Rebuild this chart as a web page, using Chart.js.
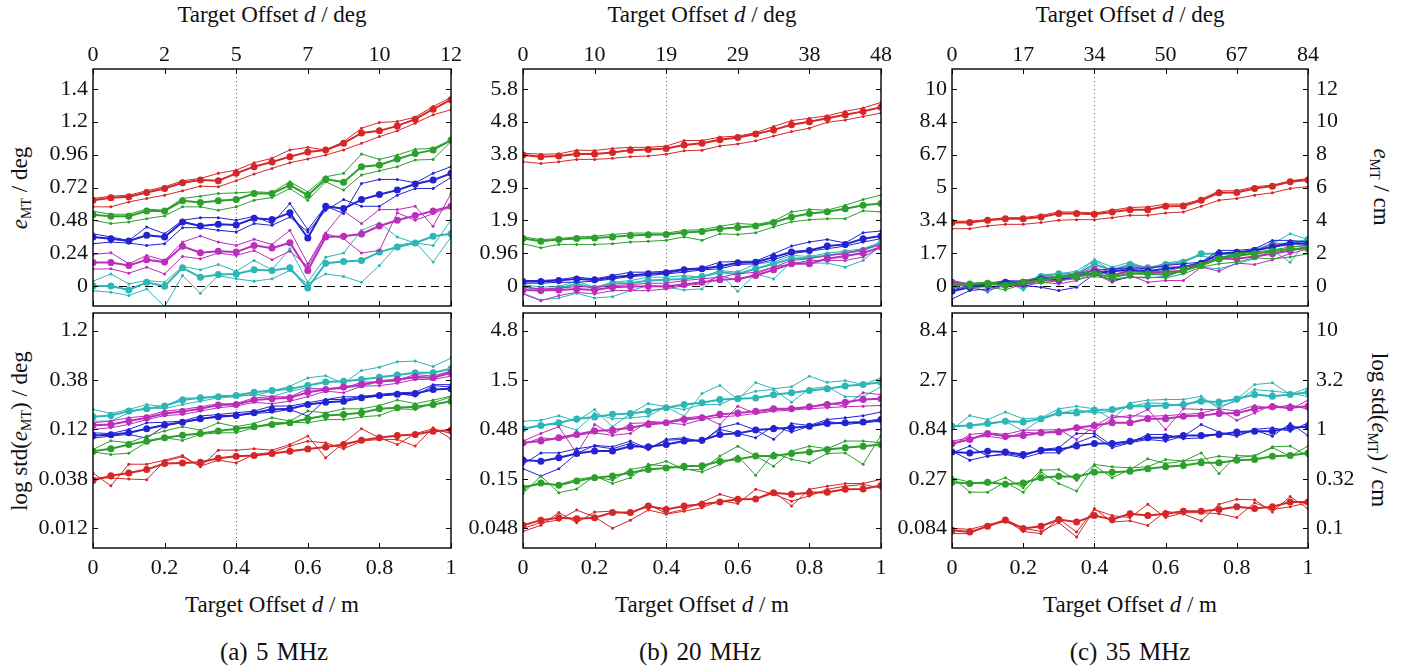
<!DOCTYPE html>
<html>
<head>
<meta charset="utf-8">
<script src="https://cdn.jsdelivr.net/npm/chart.js@4.4.0/dist/chart.umd.min.js"></script>
<style>
  body { margin: 0; background: #fff; width: 1416px; height: 667px; overflow: hidden; position: relative;
         font-family: 'Liberation Serif', serif; color: #111; }
  canvas { position: absolute; }
  .t { position: absolute; font-size: 23px; white-space: nowrap; transform: translate(-50%, -50%); }
  .cap { font-size: 25px; word-spacing: 2px; }
  .rl { transform: translate(-50%, -50%) rotate(-90deg); }
  .rr { transform: translate(-50%, -50%) rotate(90deg); }
  .sub { font-size: 14px; position: relative; top: 4px; }
</style>
</head>
<body>

<div class="t" style="left:272px;top:15px">Target Offset <i>d</i> / deg</div>
<div class="t" style="left:702px;top:15px">Target Offset <i>d</i> / deg</div>
<div class="t" style="left:1130px;top:15px">Target Offset <i>d</i> / deg</div>

<div class="t" style="left:272px;top:605px">Target Offset <i>d</i> / m</div>
<div class="t" style="left:702px;top:605px">Target Offset <i>d</i> / m</div>
<div class="t" style="left:1130px;top:605px">Target Offset <i>d</i> / m</div>

<div class="t cap" style="left:274px;top:652px">(a) 5 MHz</div>
<div class="t cap" style="left:700px;top:652px">(b) 20 MHz</div>
<div class="t cap" style="left:1130px;top:652px">(c) 35 MHz</div>

<div class="t rl" style="left:20px;top:188px"><i>e</i><span class="sub">MT</span> / deg</div>
<div class="t rl" style="left:20px;top:431px">log std(<i>e</i><span class="sub">MT</span>) / deg</div>
<div class="t rr" style="left:1381px;top:187px"><i>e</i><span class="sub">MT</span> / cm</div>
<div class="t rr" style="left:1379px;top:430px">log std(<i>e</i><span class="sub">MT</span>) / cm</div>

<canvas id="e5"></canvas>
<canvas id="s5"></canvas>
<canvas id="e20"></canvas>
<canvas id="s20"></canvas>
<canvas id="e35"></canvas>
<canvas id="s35"></canvas>

<script>
// target offset in m, 21 steps
var xs = [0, 0.05, 0.1, 0.15, 0.2, 0.25, 0.3, 0.35, 0.4, 0.45, 0.5, 0.55, 0.6, 0.65, 0.7, 0.75, 0.8, 0.85, 0.9, 0.95, 1];

var xTicks = [0, 0.2, 0.4, 0.6, 0.8, 1];
var xLabels = ['0', '0.2', '0.4', '0.6', '0.8', '1'];
var deg5Labels = ['0', '2', '5', '7', '10', '12'];
var deg20Labels = ['0', '10', '19', '29', '38', '48'];
var deg35Labels = ['0', '17', '34', '50', '67', '84'];

var err5Ticks = [0, 0.24, 0.48, 0.72, 0.96, 1.2, 1.44];
var err5Labels = ['0', '0.24', '0.48', '0.72', '0.96', '1.2', '1.4'];
var err20Ticks = [0, 0.96, 1.92, 2.88, 3.84, 4.8, 5.76];
var err20Labels = ['0', '0.96', '1.9', '2.9', '3.8', '4.8', '5.8'];
var err35Ticks = [0, 1.68, 3.36, 5.04, 6.72, 8.4, 10.08];
var err35Labels = ['0', '1.7', '3.4', '5', '6.7', '8.4', '10'];
var errCmTicks = [0, 2, 4, 6, 8, 10, 12];
var errCmLabels = ['0', '2', '4', '6', '8', '10', '12'];

var std5Ticks = [0.012, 0.03795, 0.12, 0.3795, 1.2];
var std5Labels = ['0.012', '0.038', '0.12', '0.38', '1.2'];
var std20Ticks = [0.048, 0.1518, 0.48, 1.518, 4.8];
var std20Labels = ['0.048', '0.15', '0.48', '1.5', '4.8'];
var std35Ticks = [0.084, 0.2656, 0.84, 2.656, 8.4];
var std35Labels = ['0.084', '0.27', '0.84', '2.7', '8.4'];
var stdCmTicks = [0.1, 0.3162, 1, 3.162, 10];
var stdCmLabels = ['0.1', '0.32', '1', '3.2', '10'];

// (a) 5 MHz, mean error / deg
var e5_red = [0.627,0.645,0.652,0.684,0.713,0.754,0.774,0.769,0.823,0.872,0.906,0.945,0.979,0.994,1.042,1.118,1.133,1.169,1.218,1.291,1.360];
var e5_red_1 = [0.579,0.579,0.615,0.640,0.664,0.696,0.730,0.725,0.769,0.818,0.859,0.901,0.928,0.957,0.994,1.042,1.091,1.133,1.189,1.250,1.287];
var e5_red_2 = [0.640,0.657,0.664,0.696,0.725,0.769,0.786,0.823,0.847,0.901,0.933,0.994,1.013,0.994,1.054,1.152,1.194,1.201,1.233,1.311,1.377];
var e5_green = [0.522,0.510,0.510,0.549,0.549,0.623,0.610,0.623,0.632,0.676,0.676,0.737,0.664,0.781,0.759,0.872,0.884,0.928,0.967,0.994,1.064];
var e5_green_1 = [0.481,0.457,0.469,0.493,0.513,0.579,0.579,0.554,0.579,0.627,0.647,0.713,0.627,0.762,0.701,0.811,0.842,0.872,0.920,0.925,1.055];
var e5_green_2 = [0.547,0.525,0.525,0.562,0.554,0.640,0.657,0.676,0.681,0.688,0.684,0.762,0.688,0.798,0.823,0.964,0.925,0.957,0.999,1.006,1.067];
var e5_blue = [0.359,0.347,0.330,0.371,0.359,0.469,0.439,0.452,0.447,0.496,0.486,0.535,0.352,0.584,0.566,0.632,0.669,0.701,0.745,0.774,0.823];
var e5_blue_1 = [0.310,0.322,0.315,0.298,0.310,0.427,0.427,0.408,0.396,0.457,0.444,0.505,0.396,0.554,0.632,0.583,0.583,0.664,0.713,0.713,0.793];
var e5_blue_2 = [0.383,0.359,0.334,0.432,0.383,0.481,0.500,0.500,0.481,0.510,0.457,0.603,0.413,0.584,0.530,0.749,0.779,0.779,0.754,0.823,0.872];
var e5_magenta = [0.173,0.173,0.151,0.193,0.176,0.291,0.244,0.256,0.249,0.298,0.278,0.317,0.115,0.359,0.364,0.381,0.439,0.481,0.515,0.549,0.583];
var e5_magenta_1 = [0.125,0.127,0.095,0.139,0.090,0.217,0.200,0.242,0.225,0.261,0.193,0.256,0.144,0.383,0.347,0.242,0.261,0.535,0.481,0.530,0.578];
var e5_magenta_2 = [0.232,0.244,0.164,0.225,0.188,0.322,0.366,0.322,0.298,0.342,0.305,0.408,0.164,0.388,0.549,0.457,0.559,0.559,0.583,0.437,0.676];
var e5_cyan = [0.002,0.002,-0.027,0.029,0.000,0.134,0.066,0.085,0.090,0.120,0.115,0.134,-0.012,0.168,0.181,0.188,0.249,0.286,0.315,0.364,0.383];
var e5_cyan_1 = [-0.032,-0.044,-0.068,-0.020,-0.149,0.078,-0.051,0.078,0.054,0.037,0.054,0.115,0.017,0.090,0.071,0.029,0.151,0.298,0.322,0.176,0.359];
var e5_cyan_2 = [0.037,0.090,0.017,0.042,0.029,0.144,0.120,0.159,0.110,0.188,0.120,0.273,0.029,0.212,0.242,0.408,0.461,0.359,0.315,0.298,0.481];

// (a) 5 MHz, std / deg
var s5_red = [0.0366,0.0409,0.0435,0.0471,0.0542,0.055,0.056,0.0612,0.0644,0.0654,0.0684,0.0723,0.0761,0.0797,0.0846,0.0934,0.0988,0.104,0.107,0.115,0.118];
var s5_red_1 = [0.0435,0.0323,0.0534,0.0534,0.0587,0.0654,0.0502,0.0741,0.0741,0.0765,0.0741,0.0846,0.103,0.0619,0.088,0.122,0.0988,0.0846,0.109,0.122,0.109];
var s5_red_2 = [0.0387,0.0387,0.0378,0.0372,0.0572,0.0634,0.0509,0.0587,0.055,0.067,0.0706,0.0814,0.0914,0.088,0.0765,0.0914,0.0952,0.0952,0.0814,0.125,0.0967];
var s5_green = [0.0723,0.0765,0.0846,0.0914,0.099,0.105,0.109,0.116,0.122,0.128,0.135,0.140,0.154,0.166,0.170,0.177,0.194,0.199,0.204,0.215,0.232];
var s5_green_1 = [0.071,0.067,0.069,0.0895,0.099,0.093,0.107,0.111,0.111,0.125,0.140,0.142,0.140,0.151,0.151,0.161,0.166,0.194,0.191,0.223,0.257];
var s5_green_2 = [0.0753,0.092,0.088,0.103,0.116,0.128,0.118,0.140,0.128,0.138,0.158,0.146,0.184,0.177,0.194,0.194,0.210,0.238,0.219,0.238,0.261];
var s5_blue = [0.104,0.106,0.111,0.122,0.133,0.142,0.154,0.161,0.166,0.177,0.191,0.194,0.215,0.226,0.232,0.251,0.265,0.272,0.278,0.305,0.309];
var s5_blue_1 = [0.098,0.103,0.107,0.098,0.130,0.142,0.151,0.166,0.166,0.174,0.179,0.191,0.164,0.241,0.241,0.261,0.261,0.278,0.261,0.333,0.323];
var s5_blue_2 = [0.111,0.109,0.120,0.140,0.142,0.146,0.164,0.170,0.177,0.184,0.207,0.207,0.223,0.241,0.257,0.257,0.272,0.282,0.286,0.341,0.341];
var s5_magenta = [0.132,0.135,0.146,0.158,0.174,0.182,0.194,0.212,0.215,0.238,0.246,0.251,0.286,0.305,0.323,0.341,0.370,0.385,0.406,0.400,0.449];
var s5_magenta_1 = [0.120,0.125,0.135,0.151,0.166,0.170,0.184,0.199,0.207,0.226,0.219,0.232,0.257,0.293,0.282,0.329,0.333,0.352,0.385,0.385,0.416];
var s5_magenta_2 = [0.140,0.146,0.158,0.164,0.184,0.191,0.204,0.218,0.219,0.251,0.257,0.257,0.309,0.309,0.309,0.362,0.362,0.379,0.432,0.416,0.469];
var s5_cyan = [0.161,0.166,0.184,0.194,0.207,0.238,0.251,0.257,0.265,0.286,0.298,0.309,0.334,0.362,0.370,0.385,0.406,0.426,0.449,0.449,0.493];
var s5_cyan_1 = [0.192,0.174,0.191,0.215,0.204,0.251,0.246,0.265,0.265,0.265,0.293,0.329,0.399,0.420,0.352,0.473,0.512,0.581,0.590,0.520,0.633];
var s5_cyan_2 = [0.146,0.146,0.177,0.199,0.195,0.215,0.232,0.251,0.257,0.272,0.257,0.293,0.317,0.305,0.317,0.329,0.362,0.370,0.416,0.400,0.469];

// (b) 20 MHz, mean error / deg
var e20_red = [3.83,3.78,3.80,3.86,3.86,3.90,3.97,3.99,4.02,4.12,4.17,4.27,4.34,4.44,4.56,4.71,4.80,4.90,5.00,5.10,5.22];
var e20_red_1 = [3.63,3.58,3.63,3.70,3.70,3.73,3.78,3.80,3.85,3.95,3.97,4.09,4.15,4.24,4.38,4.51,4.61,4.78,4.85,4.95,5.05];
var e20_red_2 = [3.88,3.85,3.86,3.97,3.96,4.02,4.05,4.05,4.09,4.25,4.25,4.35,4.38,4.48,4.66,4.83,4.90,4.97,5.10,5.20,5.36];
var e20_green = [1.39,1.31,1.36,1.39,1.41,1.44,1.48,1.50,1.51,1.57,1.60,1.68,1.71,1.76,1.86,2.02,2.12,2.17,2.26,2.36,2.41];
var e20_green_1 = [1.24,1.12,1.22,1.22,1.22,1.24,1.29,1.31,1.34,1.44,1.34,1.53,1.51,1.56,1.73,1.88,1.94,1.97,1.97,2.20,2.17];
var e20_green_2 = [1.44,1.36,1.39,1.44,1.46,1.51,1.55,1.55,1.55,1.63,1.65,1.75,1.83,1.80,1.90,2.17,2.24,2.22,2.36,2.53,2.66];
var e20_blue = [0.137,0.137,0.166,0.215,0.186,0.264,0.313,0.361,0.391,0.479,0.508,0.586,0.684,0.703,0.850,0.996,1.045,1.172,1.221,1.387,1.465];
var e20_blue_1 = [0.166,0.166,0.195,0.264,0.215,0.313,0.410,0.410,0.440,0.508,0.537,0.703,0.723,0.732,0.947,1.172,1.289,1.367,1.260,1.563,1.611];
var e20_blue_2 = [0.088,0.088,0.117,0.117,0.146,0.215,0.283,0.313,0.361,0.410,0.479,0.508,0.635,0.654,0.772,0.947,1.025,1.094,1.172,1.289,1.387];
var e20_magenta = [-0.107,-0.127,-0.107,-0.078,-0.107,-0.029,-0.010,0,0,0.049,0.117,0.186,0.215,0.313,0.479,0.654,0.654,0.801,0.879,0.967,1.143];
var e20_magenta_1 = [-0.225,-0.420,-0.273,-0.176,-0.225,-0.127,-0.127,-0.127,-0.078,0.020,0.068,0.313,0.166,0.361,0.557,0.654,0.752,0.752,0.752,0.850,1.143];
var e20_magenta_2 = [-0.029,-0.078,-0.059,-0.010,-0.029,0.020,0.049,0.088,0.088,0.166,0.215,0.264,0.361,0.410,0.557,0.752,0.801,0.898,0.947,1.094,1.191];
var e20_cyan = [-0.010,-0.107,-0.059,0.068,-0.059,0.088,0.088,0.166,0.186,0.215,0.283,0.410,0.361,0.508,0.654,0.801,0.830,0.898,0.977,1.045,1.260];
var e20_cyan_1 = [-0.205,-0.400,-0.342,-0.205,-0.342,-0.303,-0.127,0.020,-0.029,-0.107,-0.078,0.361,-0.146,0.361,0.215,0.703,0.674,0.674,0.557,0.752,1.191];
var e20_cyan_2 = [0.049,-0.029,-0.010,0.146,-0.029,0.117,0.166,0.264,0.264,0.313,0.264,0.459,0.410,0.654,0.703,0.898,0.869,0.967,1.025,1.094,1.289];

// (b) 20 MHz, std / deg
var s20_red = [0.0514,0.058,0.0614,0.060,0.0614,0.0691,0.0691,0.0806,0.0744,0.0806,0.084,0.0883,0.0941,0.095,0.110,0.106,0.110,0.111,0.119,0.120,0.130];
var s20_red_1 = [0.0446,0.0514,0.0691,0.0547,0.070,0.0715,0.0667,0.084,0.0677,0.0744,0.0883,0.106,0.0941,0.095,0.114,0.0806,0.119,0.128,0.136,0.136,0.150];
var s20_red_2 = [0.048,0.0547,0.058,0.0734,0.0624,0.048,0.058,0.0734,0.0667,0.0715,0.0773,0.0912,0.0854,0.119,0.106,0.0902,0.102,0.119,0.128,0.133,0.123];
var s20_green = [0.123,0.138,0.131,0.144,0.156,0.162,0.175,0.189,0.196,0.204,0.206,0.229,0.239,0.258,0.258,0.274,0.283,0.301,0.313,0.325,0.338];
var s20_green_1 = [0.108,0.162,0.110,0.120,0.162,0.136,0.156,0.213,0.204,0.192,0.178,0.213,0.258,0.165,0.278,0.239,0.221,0.274,0.278,0.213,0.418];
var s20_green_2 = [0.128,0.133,0.133,0.150,0.159,0.147,0.189,0.204,0.229,0.189,0.189,0.258,0.325,0.258,0.204,0.290,0.325,0.306,0.366,0.366,0.352];
var s20_blue = [0.235,0.229,0.248,0.274,0.290,0.290,0.325,0.321,0.338,0.366,0.373,0.427,0.438,0.473,0.488,0.499,0.518,0.552,0.561,0.571,0.605];
var s20_blue_1 = [0.192,0.162,0.192,0.274,0.331,0.321,0.366,0.306,0.381,0.396,0.357,0.499,0.552,0.473,0.381,0.552,0.527,0.605,0.629,0.662,0.720];
var s20_blue_2 = [0.213,0.278,0.278,0.306,0.325,0.306,0.347,0.301,0.373,0.381,0.366,0.480,0.438,0.396,0.518,0.451,0.518,0.581,0.538,0.561,0.581];
var s20_magenta = [0.352,0.366,0.396,0.427,0.462,0.473,0.499,0.538,0.561,0.605,0.629,0.682,0.706,0.734,0.778,0.778,0.816,0.859,0.907,0.965,0.979];
var s20_magenta_1 = [0.366,0.438,0.511,0.274,0.538,0.427,0.552,0.561,0.571,0.629,0.653,0.538,0.826,0.696,0.763,0.778,0.797,0.893,0.826,1.13,1.08];
var s20_magenta_2 = [0.338,0.396,0.381,0.418,0.444,0.418,0.438,0.581,0.561,0.538,0.605,0.643,0.662,0.696,0.734,0.754,0.778,0.797,0.816,0.826,0.840];
var s20_cyan = [0.488,0.527,0.561,0.614,0.643,0.682,0.696,0.734,0.797,0.859,0.893,0.965,0.979,1.00,1.08,1.13,1.19,1.24,1.32,1.37,1.44];
var s20_cyan_1 = [0.581,0.595,0.662,0.581,0.763,0.511,0.696,0.878,0.816,0.653,1.11,1.34,0.965,1.43,1.24,1.30,1.66,1.44,1.50,1.37,1.60];
var s20_cyan_2 = [0.480,0.538,0.538,0.473,0.696,0.614,0.629,0.653,0.816,0.763,0.859,0.859,1.03,1.17,1.22,0.907,1.24,1.30,1.03,1.03,1.30];

// (c) 35 MHz, mean error / deg
var e35_red = [3.25,3.25,3.37,3.45,3.45,3.54,3.71,3.71,3.67,3.79,3.91,3.91,4.08,4.10,4.39,4.77,4.79,4.99,5.11,5.33,5.42];
var e35_red_1 = [2.94,2.94,3.08,3.16,3.16,3.25,3.37,3.40,3.40,3.50,3.62,3.62,3.74,3.79,4.08,4.39,4.48,4.65,4.77,4.99,5.08];
var e35_red_2 = [3.32,3.32,3.40,3.50,3.50,3.62,3.79,3.79,3.74,3.88,4.02,4.05,4.19,4.19,4.43,4.87,4.87,5.08,5.16,5.38,5.50];
var e35_green = [0.034,0.085,0.154,0.034,0.205,0.290,0.461,0.496,0.632,0.461,0.632,0.632,0.598,0.803,1.06,1.40,1.57,1.66,1.79,1.91,1.91];
var e35_green_1 = [-0.051,-0.085,-0.017,-0.188,0.120,0.154,0.290,0.376,0.496,0.376,0.461,0.461,0.427,0.632,0.974,1.15,1.23,1.45,1.40,1.49,1.66];
var e35_green_2 = [0.120,0.154,0.205,0.154,0.290,0.427,0.496,0.632,0.769,0.547,0.718,0.718,0.769,0.974,1.15,1.45,1.69,1.74,1.86,2.00,2.09];
var e35_blue = [-0.256,-0.051,0.085,0.205,0.205,0.376,0.376,0.496,0.667,0.769,0.837,0.769,0.889,0.974,1.18,1.66,1.74,1.83,2.00,2.17,2.17];
var e35_blue_1 = [-0.649,-0.222,-0.137,0.085,0.034,-0.051,-0.222,-0.051,0.632,0.290,0.461,0.427,0.496,0.803,1.06,1.49,1.57,1.83,2.00,2.26,2.26];
var e35_blue_2 = [-0.188,0.034,0.120,0.290,0.256,0.461,0.427,0.632,0.803,0.889,0.940,0.889,1.06,1.15,1.23,1.83,1.83,1.91,2.34,2.34,2.26];
var e35_magenta = [0.205,0.085,0.085,0.120,0.120,0.290,0.290,0.496,0.837,0.547,0.803,0.718,0.718,0.803,1.15,1.40,1.40,1.52,1.66,1.83,2.00];
var e35_magenta_1 = [0.154,-0.085,-0.222,0.034,-0.017,0.205,0.120,0.290,0.632,0.205,0.547,0.205,0.290,0.290,0.974,0.769,1.18,1.11,1.35,1.66,1.91];
var e35_magenta_2 = [0.290,0.120,0.205,0.205,0.290,0.461,0.496,0.632,0.940,0.718,0.974,0.974,0.974,1.01,1.23,1.52,1.49,1.74,2.20,2.00,2.09];
var e35_cyan = [0,0.120,0.120,0.171,0,0.496,0.632,0.632,1.11,0.837,1.11,0.940,1.11,1.23,1.66,1.66,1.66,1.83,2.17,2.17,2.38];
var e35_cyan_1 = [0.085,0.085,-0.308,0.256,-0.188,0.461,0.256,0.632,1.32,0.769,1.06,0.769,1.23,1.06,0.974,0.889,1.15,1.40,1.83,1.23,2.38];
var e35_cyan_2 = [0.205,0.085,0.034,0.290,0.120,0.598,0.632,0.769,1.35,0.974,1.23,0.889,1.18,1.32,1.57,1.32,1.74,1.83,2.17,2.68,2.38];

// (c) 35 MHz, std / deg
var s35_red = [0.0803,0.0769,0.0882,0.102,0.0838,0.0882,0.103,0.0974,0.113,0.103,0.118,0.113,0.118,0.125,0.125,0.130,0.139,0.133,0.139,0.155,0.155];
var s35_red_1 = [0.0743,0.0743,0.0899,0.102,0.0781,0.0743,0.105,0.0769,0.133,0.0974,0.100,0.0899,0.125,0.117,0.100,0.147,0.165,0.163,0.123,0.176,0.133];
var s35_red_2 = [0.084,0.082,0.0916,0.0974,0.084,0.0781,0.0958,0.0686,0.130,0.113,0.108,0.147,0.108,0.121,0.121,0.118,0.108,0.152,0.130,0.139,0.152];
var s35_green = [0.246,0.239,0.246,0.234,0.242,0.273,0.283,0.279,0.311,0.311,0.318,0.336,0.352,0.363,0.386,0.386,0.411,0.417,0.451,0.458,0.487];
var s35_green_1 = [0.279,0.195,0.195,0.246,0.195,0.311,0.239,0.200,0.363,0.273,0.330,0.424,0.380,0.402,0.487,0.301,0.458,0.451,0.561,0.570,0.451];
var s35_green_2 = [0.273,0.246,0.234,0.273,0.216,0.326,0.330,0.258,0.372,0.352,0.344,0.352,0.417,0.402,0.417,0.451,0.434,0.458,0.549,0.451,0.570];
var s35_blue = [0.496,0.487,0.507,0.496,0.469,0.518,0.528,0.570,0.605,0.605,0.640,0.692,0.692,0.731,0.731,0.748,0.790,0.808,0.808,0.874,0.894];
var s35_blue_1 = [0.507,0.411,0.451,0.469,0.434,0.487,0.487,0.616,0.719,0.549,0.616,0.666,0.640,0.719,0.941,0.790,0.719,0.827,0.719,0.966,0.731];
var s35_blue_2 = [0.487,0.570,0.451,0.480,0.451,0.528,0.549,0.766,0.766,0.580,0.616,0.748,0.748,0.676,0.692,0.766,0.731,0.840,0.874,0.808,0.981];
var s35_magenta = [0.605,0.666,0.766,0.719,0.731,0.777,0.790,0.874,0.922,0.981,0.981,1.08,1.08,1.14,1.16,1.22,1.23,1.36,1.43,1.39,1.44];
var s35_magenta_1 = [0.570,0.748,0.777,0.748,0.827,0.827,0.840,0.666,0.907,1.16,1.10,1.34,0.840,1.36,1.34,1.34,1.04,1.23,1.50,1.34,1.66];
var s35_magenta_2 = [0.640,0.692,0.719,0.676,0.790,0.766,0.827,0.874,0.808,1.10,1.16,1.14,1.16,1.19,1.23,1.36,1.29,1.47,1.36,1.50,1.34];
var s35_cyan = [0.907,0.922,0.966,1.02,1.00,1.08,1.23,1.23,1.32,1.34,1.44,1.44,1.47,1.50,1.62,1.59,1.71,1.90,1.82,1.90,2.00];
var s35_cyan_1 = [0.840,1.16,1.06,1.26,1.08,1.10,1.36,1.44,1.36,1.06,1.56,1.66,1.69,1.69,1.82,1.36,1.71,2.39,2.49,1.90,2.22];
var s35_cyan_2 = [0.922,0.922,0.941,1.02,0.808,1.06,1.22,1.34,1.22,1.29,1.44,1.56,1.54,1.44,1.71,1.44,1.62,2.13,2.05,1.97,1.80];

var colors = ['#d62728', '#2ca02c', '#2323d2', '#bb2dbb', '#2db6b6'];

Chart.defaults.font.family = "'Liberation Serif', serif";
Chart.defaults.font.size = 22;
Chart.defaults.color = '#111';

var M = 80;   // room round each plot area for tick labels
var TICK = 5;

// box, inward ticks, 0.4 m marker and zero line
var framePlugin = {
  id: 'frame',
  beforeDatasetsDraw: function (chart, args, opts) {
    var a = chart.chartArea, c = chart.ctx;
    c.save();
    var px = Math.round(chart.scales.x.getPixelForValue(0.4)) + 0.5;
    c.strokeStyle = '#666';
    c.lineWidth = 1;
    c.setLineDash([1, 3]);
    c.beginPath(); c.moveTo(px, a.top); c.lineTo(px, a.bottom); c.stroke();
    if (opts.zero) {
      var py = Math.round(chart.scales.y.getPixelForValue(0)) + 0.5;
      c.strokeStyle = '#000';
      c.lineWidth = 1.2;
      c.setLineDash([8, 5]);
      c.beginPath(); c.moveTo(a.left, py); c.lineTo(a.right, py); c.stroke();
    }
    c.restore();
  },
  afterDatasetsDraw: function (chart) {
    var a = chart.chartArea, c = chart.ctx;
    c.save();
    c.strokeStyle = '#000';
    c.lineWidth = 1;
    c.beginPath();
    chart.scales.x.ticks.forEach(function (t) {
      var px = Math.round(chart.scales.x.getPixelForValue(t.value)) + 0.5;
      c.moveTo(px, a.bottom); c.lineTo(px, a.bottom - TICK);
      c.moveTo(px, a.top); c.lineTo(px, a.top + TICK);
    });
    chart.scales.y.ticks.forEach(function (t) {
      var py = Math.round(chart.scales.y.getPixelForValue(t.value)) + 0.5;
      c.moveTo(a.left, py); c.lineTo(a.left + TICK, py);
      c.moveTo(a.right, py); c.lineTo(a.right - TICK, py);
    });
    c.stroke();
    c.lineWidth = 1.4;
    c.strokeRect(a.left, a.top, a.right - a.left, a.bottom - a.top);
    c.restore();
  }
};

function setTicks(vals) {
  return function (scale) {
    scale.ticks = vals.map(function (v) { return {value: v}; });
  };
}
function lab(labels) {
  return function (v, i) { return labels[i]; };
}
function fixW(scale) { scale.width = M; }
function fixH(scale) { scale.height = M; }

function lineSet(vals, color, thick) {
  return {
    data: xs.map(function (x, i) { return {x: x, y: vals[i]}; }),
    borderColor: color,
    backgroundColor: color,
    borderWidth: thick ? 2 : 1,
    pointRadius: thick ? 3.5 : 1.5,
    pointBorderWidth: 0,
    pointHoverRadius: 0,
    tension: 0
  };
}

var panels = [
  {id: 'e5', left: 93, top: 69, w: 358, h: 237, log: false, min: -0.144, max: 1.584,
   yTicks: err5Ticks, yLabels: err5Labels, deg: deg5Labels, zero: true,
   series: [[e5_red_1, e5_red_2, e5_red], [e5_green_1, e5_green_2, e5_green], [e5_blue_1, e5_blue_2, e5_blue],
            [e5_magenta_1, e5_magenta_2, e5_magenta], [e5_cyan_1, e5_cyan_2, e5_cyan]]},
  {id: 's5', left: 93, top: 313, w: 358, h: 235, log: true, min: 0.00758, max: 1.81,
   yTicks: std5Ticks, yLabels: std5Labels, zero: false,
   series: [[s5_red_1, s5_red_2, s5_red], [s5_green_1, s5_green_2, s5_green], [s5_blue_1, s5_blue_2, s5_blue],
            [s5_magenta_1, s5_magenta_2, s5_magenta], [s5_cyan_1, s5_cyan_2, s5_cyan]]},
  {id: 'e20', left: 523, top: 69, w: 358, h: 237, log: false, min: -0.576, max: 6.336,
   yTicks: err20Ticks, yLabels: err20Labels, deg: deg20Labels, zero: true,
   series: [[e20_red_1, e20_red_2, e20_red], [e20_green_1, e20_green_2, e20_green], [e20_blue_1, e20_blue_2, e20_blue],
            [e20_magenta_1, e20_magenta_2, e20_magenta], [e20_cyan_1, e20_cyan_2, e20_cyan]]},
  {id: 's20', left: 523, top: 313, w: 358, h: 235, log: true, min: 0.0303, max: 7.24,
   yTicks: std20Ticks, yLabels: std20Labels, zero: false,
   series: [[s20_red_1, s20_red_2, s20_red], [s20_green_1, s20_green_2, s20_green], [s20_blue_1, s20_blue_2, s20_blue],
            [s20_magenta_1, s20_magenta_2, s20_magenta], [s20_cyan_1, s20_cyan_2, s20_cyan]]},
  {id: 'e35', left: 952, top: 69, w: 356, h: 237, log: false, min: -1.008, max: 11.088,
   yTicks: err35Ticks, yLabels: err35Labels, deg: deg35Labels, zero: true,
   rMin: -1.2, rMax: 13.2, rTicks: errCmTicks, rLabels: errCmLabels,
   series: [[e35_red_1, e35_red_2, e35_red], [e35_green_1, e35_green_2, e35_green], [e35_blue_1, e35_blue_2, e35_blue],
            [e35_magenta_1, e35_magenta_2, e35_magenta], [e35_cyan_1, e35_cyan_2, e35_cyan]]},
  {id: 's35', left: 952, top: 313, w: 356, h: 235, log: true, min: 0.0531, max: 12.67,
   yTicks: std35Ticks, yLabels: std35Labels, zero: false,
   rMin: 0.0632, rMax: 15.08, rTicks: stdCmTicks, rLabels: stdCmLabels,
   series: [[s35_red_1, s35_red_2, s35_red], [s35_green_1, s35_green_2, s35_green], [s35_blue_1, s35_blue_2, s35_blue],
            [s35_magenta_1, s35_magenta_2, s35_magenta], [s35_cyan_1, s35_cyan_2, s35_cyan]]}
];

panels.forEach(function (p) {
  var cv = document.getElementById(p.id);
  cv.width = p.w + 2 * M;
  cv.height = p.h + 2 * M;
  cv.style.left = (p.left - M) + 'px';
  cv.style.top = (p.top - M) + 'px';

  var ds = [];
  p.series.forEach(function (group, k) {
    ds.push(lineSet(group[0], colors[k], false));
    ds.push(lineSet(group[1], colors[k], false));
    ds.push(lineSet(group[2], colors[k], true));
  });

  var hidden = {display: false, drawTicks: false};
  var noBorder = {display: false};
  var yType = p.log ? 'logarithmic' : 'linear';

  new Chart(cv, {
    type: 'line',
    data: {datasets: ds},
    options: {
      responsive: false,
      animation: false,
      devicePixelRatio: 1,
      events: [],
      layout: {padding: 0},
      plugins: {legend: {display: false}, tooltip: {enabled: false}, frame: {zero: p.zero}},
      scales: {
        x: {type: 'linear', position: 'bottom', min: 0, max: 1,
            afterBuildTicks: setTicks(xTicks), afterFit: fixH, grid: hidden, border: noBorder,
            ticks: {display: !p.deg, padding: 7, maxRotation: 0, callback: lab(xLabels)}},
        xt: {type: 'linear', axis: 'x', position: 'top', min: 0, max: 1,
             afterBuildTicks: setTicks(xTicks), afterFit: fixH, grid: hidden, border: noBorder,
             ticks: {display: !!p.deg, padding: 1, maxRotation: 0, callback: lab(p.deg || xLabels)}},
        y: {type: yType, position: 'left', min: p.min, max: p.max,
            afterBuildTicks: setTicks(p.yTicks), afterFit: fixW, grid: hidden, border: noBorder,
            ticks: {padding: 5, callback: lab(p.yLabels)}},
        yr: {type: yType, axis: 'y', position: 'right',
             min: p.rLabels ? p.rMin : p.min, max: p.rLabels ? p.rMax : p.max,
             afterBuildTicks: setTicks(p.rTicks || p.yTicks), afterFit: fixW, grid: hidden, border: noBorder,
             ticks: {display: !!p.rLabels, padding: 8, callback: lab(p.rLabels || p.yLabels)}}
      }
    },
    plugins: [framePlugin]
  });
});
</script>
</body>
</html>
